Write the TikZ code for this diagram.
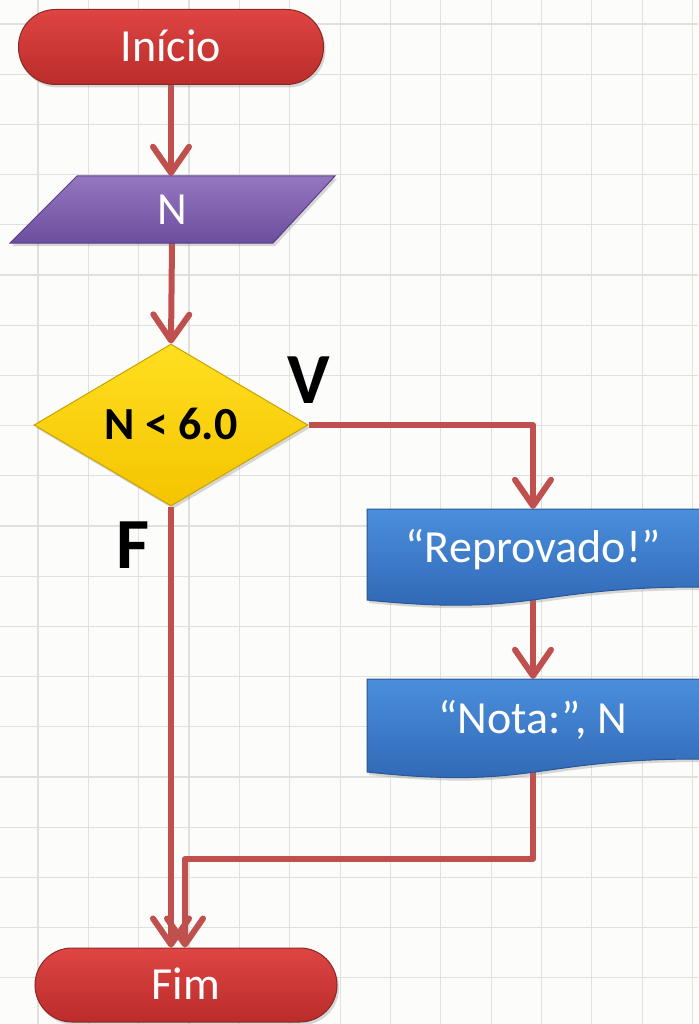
\documentclass[tikz,border=0pt]{standalone}
\usepackage{fontspec}
\setmainfont{Carlito}
\usetikzlibrary{arrows.meta,shapes.geometric,shadows}
\pgfdeclarelayer{gridlayer}
\pgfdeclarelayer{edgelayer}
\pgfsetlayers{gridlayer,edgelayer,main}
\definecolor{bgc}{HTML}{FCFDFA}
\definecolor{gridc}{HTML}{E0E0DC}
\definecolor{arrc}{HTML}{C0504D}
\definecolor{redtop}{HTML}{DE4543}
\definecolor{redbot}{HTML}{BA2C2A}
\definecolor{redline}{HTML}{8A2826}
\definecolor{purtop}{HTML}{9476C0}
\definecolor{purbot}{HTML}{6C4E9E}
\definecolor{purline}{HTML}{5A3E88}
\definecolor{yeltop}{HTML}{FFDF20}
\definecolor{yelbot}{HTML}{F4C400}
\definecolor{yelline}{HTML}{C9A200}
\definecolor{blutop}{HTML}{4A8FDC}
\definecolor{blubot}{HTML}{2E64B2}
\definecolor{bluline}{HTML}{2A5796}
\tikzset{
  shad/.style={drop shadow={opacity=0.3,shadow xshift=2pt,shadow yshift=-3pt}},
  term/.style={shape=rectangle, rounded corners=37pt, draw=redline, line width=1pt,
    top color=redtop, bottom color=redbot, shad, text=white,
    font=\fontsize{46}{50}\selectfont, text height=29.5pt, text depth=0pt, inner sep=0pt},
  lbl/.style={text=white, font=\fontsize{46}{50}\selectfont, text height=29.5pt,
    text depth=0pt, inner sep=0pt},
  dec/.style={shape=diamond, draw=yelline, line width=1pt, top color=yeltop,
    bottom color=yelbot, shad, inner sep=0pt, text=black,
    font=\fontsize{46}{50}\selectfont\bfseries, text height=29pt, text depth=0pt},
  big/.style={font=\fontsize{72}{80}\selectfont\bfseries, text height=46pt,
    text depth=0pt, inner sep=0pt, text=black},
  flow/.style={draw=arrc, line width=6pt, line join=round,
    -{Straight Barb[length=26pt,width=36pt,round]}},
  docshape/.style={draw=bluline, line width=1pt, top color=blutop,
    bottom color=blubot, shad},
}
\begin{document}
\begin{tikzpicture}[x=1pt,y=-1pt]
\useasboundingbox (0,0) rectangle (698,1024);
\begin{pgfonlayer}{gridlayer}
\fill[bgc] (0,0) rectangle (698,1024);
\foreach \i in {0,...,13} \draw[gridc, line width=1.2pt] ({38+50.35*\i},0) -- ({38+50.35*\i},1024);
\foreach \j in {0,...,19} \draw[gridc, line width=1.2pt] (0,{24+50.2*\j}) -- (698,{24+50.2*\j});
\end{pgfonlayer}

% Inicio
\node[term, minimum width=305pt, minimum height=75pt] (inicio) at (171,47) {Início};

% input parallelogram
\path[draw=purline, line width=1pt, top color=purtop, bottom color=purbot, shad]
  (77,176) -- (335,176) -- (273,243) -- (10,243) -- cycle;
\node[lbl, minimum width=200pt, minimum height=67pt] (entrada) at (172,209.5) {N};

% decision
\node[dec, minimum width=274pt, minimum height=162pt] (cond) at (171,425) {N < 6.0};
\node[big] (vlab) at (309,380) {V};
\node[big] (flab) at (133,545) {F};

% output documents
\path[docshape] (367,509) -- (700,509) -- (700,587) .. controls (533,587) and (533,617) .. (367,600) -- cycle;
\node[lbl, minimum width=331pt, minimum height=78pt] (rep) at (533,548) {“Reprovado!”};
\path[docshape] (367,679) -- (700,679) -- (700,759) .. controls (533,759) and (533,790) .. (367,772) -- cycle;
\node[lbl, minimum width=331pt, minimum height=80pt] (nota) at (533,719) {“Nota:”, N};

% Fim
\node[term, minimum width=302pt, minimum height=74pt] (fim) at (186,985) {Fim};

\coordinate (junc) at (185,859);

\begin{pgfonlayer}{edgelayer}
\draw[flow] (inicio.south) -- (inicio.south |- entrada.north);
\draw[flow] (entrada.south) -- (cond.north);
\draw[flow] (cond.east) -| (rep.north);
\draw[flow] (rep.south) -- (nota.north);
\draw[flow] (cond.south) -- (cond.south |- fim.north);
\draw[flow] (nota.south) |- (junc) -- (junc |- fim.north);
\end{pgfonlayer}
\end{tikzpicture}
\end{document}
